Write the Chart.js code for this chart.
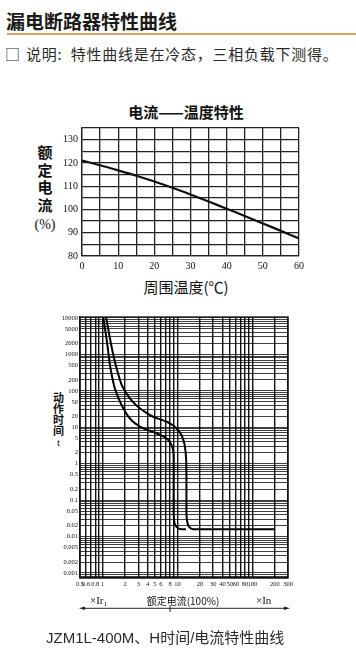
<!DOCTYPE html>
<html><head><meta charset="utf-8">
<script src="https://cdn.jsdelivr.net/npm/chart.js@4/dist/chart.umd.min.js"></script>
<style>
html,body{margin:0;padding:0;background:#fff;width:356px;height:657px;overflow:hidden;}
.t{position:absolute;white-space:nowrap;color:#111;}
canvas{position:absolute;}
</style></head><body>
<div class="t" style="left:6px;top:10px;font:bold 19px/22px 'Noto Sans CJK SC';color:#1a1a1a;">漏电断路器特性曲线</div>
<div style="position:absolute;left:7px;top:33px;width:349px;height:1.5px;background:#d8a35e;"></div>
<div class="t" style="left:5px;top:44px;font:15px/19px 'Noto Sans CJK SC';color:#2a2a2a;">□</div>
<div class="t" style="left:26px;top:44px;font:15px/19px 'Noto Sans CJK SC';color:#2a2a2a;letter-spacing:0.75px;">说明:&nbsp; 特性曲线是在冷态，三相负载下测得。</div>

<div class="t" style="left:86px;top:102px;width:200px;text-align:center;font:bold 15px/20px 'Noto Sans CJK SC';">电流——温度特性</div>
<div class="t" style="left:30px;top:143px;width:30px;text-align:center;font:600 15px/17.7px 'Noto Sans CJK SC';">额<br>定<br>电<br>流<br><span style="font:14px 'Liberation Serif'">(%)</span></div>
<div class="t" style="left:86px;top:277px;width:200px;text-align:center;font:15px/20px 'Noto Sans CJK SC';">周围温度(℃)</div>
<canvas id="c1" width="356" height="180" style="left:0;top:100px;width:356px;height:180px;"></canvas>

<div class="t" style="left:50px;top:392px;width:17px;text-align:center;font:bold 11px/11px 'Noto Sans CJK SC';">动<br>作<br>时<br>间<br><span style="font:11px 'Liberation Serif'">t</span></div>
<canvas id="c2" width="356" height="290" style="left:0;top:305px;width:356px;height:290px;"></canvas>

<div class="t" style="left:90px;top:593px;font:11px/15px 'Liberation Serif';">×Ir<sub style="font-size:7px;vertical-align:-2px;">1</sub></div>
<div class="t" style="left:133px;top:594px;width:100px;text-align:center;font:10px/14px 'Noto Sans CJK SC';">额定电流(100%)</div>
<div class="t" style="left:256px;top:593px;font:11px/15px 'Liberation Serif';">×In</div>
<svg style="position:absolute;left:0;top:600px;" width="356" height="16">
  <line x1="82" y1="8.3" x2="287" y2="8.3" stroke="#222" stroke-width="1"/>
  <polygon points="79,8.3 85,6.6 85,10" fill="#222"/>
  <polygon points="290,8.3 284,6.6 284,10" fill="#222"/>
  <line x1="170" y1="5" x2="170" y2="12" stroke="#222" stroke-width="1"/>
</svg>

<div class="t" style="left:46px;top:628px;font:15px/20px 'Liberation Sans','Noto Sans CJK SC';color:#2a2a2a;">JZM1L-400M、H时间/电流特性曲线</div>

<script>
// ---- Chart 1: current vs ambient temperature ----
const tempC = [0, 5, 10, 15, 20, 25, 30, 35, 40, 45, 50, 55, 60];
const currentPct = [121, 119, 116.8, 114.5, 112, 109.3, 106.4, 103.4, 100.3, 97.2, 94, 90.8, 87.5];
const topXLabels = [0, 10, 20, 30, 40, 50, 60];
const topYLabels = [80, 90, 100, 110, 120, 130];

// ---- Chart 2: time / current characteristic (log-log) ----
const curveAX = [1.02, 1.07, 1.13, 1.19, 1.255, 1.35, 1.46, 1.65, 1.89, 2.2, 2.56, 3.0, 3.49, 4.3, 5.26, 6.2, 7.15, 7.8, 8.33, 8.75, 8.9, 8.9, 8.9, 8.95, 9.22, 10.2, 11.4, 13];
const curveAT = [11000, 5500, 2770, 1200, 512, 230, 117, 60, 33.2, 20, 14.2, 11.2, 9.4, 8, 6.8, 5.9, 4.98, 4.1, 3.26, 2.4, 1.5, 0.3, 0.06, 0.035, 0.0221, 0.017, 0.016, 0.016];
const curveBX = [1.11, 1.18, 1.255, 1.35, 1.46, 1.62, 1.80, 2.02, 2.32, 2.7, 3.15, 3.85, 4.74, 5.9, 7.15, 8.2, 9.22, 10.3, 11.3, 12.0, 12.5, 12.9, 13.1, 13.2, 13.2, 13.2, 13.35, 13.9, 15, 16.2, 40, 200];
const curveBT = [11000, 5500, 2770, 1300, 631, 290, 145, 95, 62.5, 44, 33.2, 25, 19.5, 16.5, 14.2, 12.3, 10.4, 8.2, 6.14, 4.5, 3.26, 1.93, 1.2, 0.4, 0.1, 0.05, 0.03, 0.0208, 0.017, 0.016, 0.016, 0.016];
const logXLabels = [0.5, 0.6, 0.8, 1, 2, 3, 4, 5, 6, 8, 10, 20, 30, 40, 50, 60, 80, 100, 200, 300];
const logYLabels = [10000, 5000, 2000, 1000, 500, 200, 100, 50, 20, 10, 5, 2, 1, 0.5, 0.2, 0.1, 0.05, 0.02, 0.01, 0.005, 0.002, 0.001];

const serif = "'Liberation Serif', 'DejaVu Serif', serif";

new Chart(document.getElementById('c1'), {
  type: 'line',
  data: { datasets: [{
    data: tempC.map((t, i) => ({ x: t, y: currentPct[i] })),
    borderColor: '#111', borderWidth: 2.2, pointRadius: 0, tension: 0.3, fill: false
  }]},
  options: {
    responsive: false, animation: false, devicePixelRatio: 1,
    layout: { padding: { top: 28, right: 57, left: 0, bottom: 0 } },
    plugins: { legend: { display: false }, tooltip: { enabled: false } },
    scales: {
      x: { type: 'linear', min: 0, max: 60,
        ticks: { stepSize: 5, autoSkip: false, maxRotation: 0, padding: 4, color: '#111',
          font: { family: serif, size: 10 },
          callback: v => topXLabels.includes(v) ? String(v) : '' },
        grid: { color: '#222', lineWidth: 1.3, drawTicks: false },
        border: { color: '#222', width: 1.3 },
        afterFit: s => { s.height = 24; } },
      y: { type: 'linear', min: 80, max: 135,
        ticks: { stepSize: 5, autoSkip: false, padding: 4, color: '#111',
          font: { family: serif, size: 10 },
          callback: v => topYLabels.includes(v) ? String(v) : '' },
        grid: { color: '#222', lineWidth: 1.3, drawTicks: false },
        border: { color: '#222', width: 1.3 },
        afterFit: s => { s.width = 82; } }
    }
  }
});

function logGrid(lo, hi) {
  const out = [];
  for (let e = -4; e <= 4; e++) {
    for (let k = 1; k <= 9; k++) {
      const v = Number((k * Math.pow(10, e)).toPrecision(6));
      if (v >= lo - 1e-12 && v <= hi + 1e-9) out.push(v);
    }
  }
  return out;
}
const near = (a, b) => Math.abs(a - b) <= Math.abs(b) * 1e-6;

const frame = {
  id: 'frame',
  afterDraw(chart) {
    const a = chart.chartArea, c = chart.ctx;
    c.save(); c.strokeStyle = '#111'; c.lineWidth = 1.3;
    c.strokeRect(a.left, a.top, a.right - a.left, a.bottom - a.top);
    c.restore();
  }
};

const yMin = 0.00073, yMax = 10650;
new Chart(document.getElementById('c2'), {
  type: 'scatter',
  data: { datasets: [
    { data: curveAX.map((x, i) => ({ x, y: curveAT[i] })), showLine: true,
      borderColor: '#000', borderWidth: 2, pointRadius: 0, tension: 0.25 },
    { data: curveBX.map((x, i) => ({ x, y: curveBT[i] })), showLine: true,
      borderColor: '#000', borderWidth: 2, pointRadius: 0, tension: 0.25 }
  ]},
  options: {
    responsive: false, animation: false, devicePixelRatio: 1,
    layout: { padding: { top: 12, right: 68, left: 0, bottom: 0 } },
    plugins: { legend: { display: false }, tooltip: { enabled: false } },
    scales: {
      x: { type: 'logarithmic', min: 0.5, max: 300,
        afterBuildTicks: s => { s.ticks = logGrid(0.5, 300).map(v => ({ value: v })); },
        ticks: { autoSkip: false, maxRotation: 0, minRotation: 0, padding: 2, color: '#111',
          font: { family: serif, size: 6.5 },
          callback: v => logXLabels.some(l => near(v, l)) ? String(v) : '' },
        grid: { color: '#111', lineWidth: 1.4, drawTicks: false },
        border: { color: '#111', width: 1.3 },
        afterFit: s => { s.height = 17; } },
      y: { type: 'logarithmic', min: yMin, max: yMax,
        afterBuildTicks: s => { s.ticks = logGrid(yMin, yMax).map(v => ({ value: v })); },
        ticks: { autoSkip: false, padding: 2, color: '#111',
          font: { family: serif, size: 6.5 },
          callback: v => logYLabels.some(l => near(v, l)) ? String(v) : '' },
        grid: { color: 'rgba(0,0,0,0.75)', lineWidth: 1.1, drawTicks: false },
        border: { color: '#111', width: 1.3 },
        afterFit: s => { s.width = 80; } }
    }
  },
  plugins: [frame]
});
</script>
</body></html>
